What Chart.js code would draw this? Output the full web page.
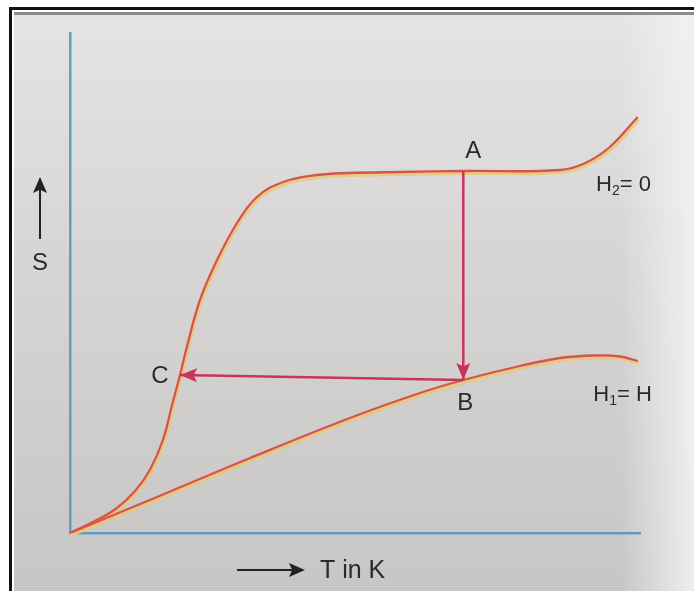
<!DOCTYPE html>
<html>
<head>
<meta charset="utf-8">
<script src="https://cdn.jsdelivr.net/npm/chart.js@4.4.1/dist/chart.umd.min.js"></script>
<style>
  html, body { margin: 0; padding: 0; background: #fff; }
  #wrap { width: 694px; height: 591px; }
</style>
</head>
<body>
<div id="wrap"><canvas id="entropyChart" width="694" height="591"></canvas></div>
<script>
// Entropy against temperature, zero field (H2 = 0)
const zeroFieldT = [0, 4, 8, 11.5, 14, 16.3, 17.9, 19.3, 20.5, 22.8, 25.8, 29.3, 32.8, 37.4, 43.3, 49.1, 57.9, 69, 86, 90.4, 94.7, 99.6];
const zeroFieldS = [0, 2.2, 4.8, 8.5, 12.6, 18.6, 25.6, 31.6, 37.2, 46.6, 54.6, 62, 67.2, 70.2, 71.6, 72, 72.2, 72.4, 72.6, 74, 77.2, 83.2];

// Entropy against temperature, applied field (H1 = H)
const fieldT = [0, 14, 31.6, 49.1, 61.4, 69, 78.9, 86, 92.1, 96.5, 99.6];
const fieldS = [0, 6.6, 15, 23, 28, 30.6, 33.4, 35, 35.5, 35.3, 34.4];

// Cycle states: A (zero field), B (field on), C (back on the zero-field curve)
const stateNames = ['A', 'B', 'C'];
const stateT = [69, 69, 19.3];
const stateS = [72.4, 30.6, 31.6];

// Curve captions split as letter, subscript, rest
const curveNames = [['H', '2', '= 0'], ['H', '1', '= H']];
const axisNames = { s: 'S', t: 'T in K' };

const FONT = '"Liberation Sans", Arial, Helvetica, sans-serif';
const INK = '#2a2a2a';

function toPoints(xs, ys) {
    return xs.map((x, i) => ({ x: x, y: ys[i] }));
}

// Paper background with the black frame at top and left
const paperPlugin = {
    id: 'paper',
    beforeDraw(chart) {
        const ctx = chart.ctx;
        const w = chart.width, h = chart.height;
        ctx.save();
        ctx.fillStyle = '#ffffff';
        ctx.fillRect(0, 0, w, h);

        const g = ctx.createLinearGradient(0, 14, 0, h);
        g.addColorStop(0, '#e4e4e5');
        g.addColorStop(0.4, '#d8d6d5');
        g.addColorStop(1, '#c8c6c5');
        ctx.fillStyle = g;
        ctx.fillRect(14, 14, w - 14, h - 14);

        // light fading toward the right edge
        const r = ctx.createLinearGradient(620, 0, w, 0);
        r.addColorStop(0, 'rgba(240,243,244,0)');
        r.addColorStop(1, 'rgba(240,243,244,0.9)');
        ctx.fillStyle = r;
        ctx.fillRect(620, 14, w - 620, h - 14);

        ctx.fillStyle = '#111';
        ctx.fillRect(9, 7, w - 9, 3);
        ctx.fillRect(9, 7, 3, h - 7);
        ctx.fillStyle = '#8c8c8c';
        ctx.fillRect(14, 12, w - 14, 3);
        ctx.restore();
    }
};

// Glow lines sit slightly below the curves they shadow
const glowPlugin = {
    id: 'glowShift',
    beforeDatasetDraw(chart, args) {
        if (chart.data.datasets[args.index].glow) {
            chart.ctx.save();
            chart.ctx.translate(1, 2);
        }
    },
    afterDatasetDraw(chart, args) {
        if (chart.data.datasets[args.index].glow) {
            chart.ctx.restore();
        }
    }
};

function arrowHead(ctx, x, y, angle, len, half, color) {
    ctx.save();
    ctx.translate(x, y);
    ctx.rotate(angle);
    ctx.fillStyle = color;
    ctx.beginPath();
    ctx.moveTo(0, 0);
    ctx.lineTo(-len, -half);
    ctx.lineTo(-len * 0.8, 0);
    ctx.lineTo(-len, half);
    ctx.closePath();
    ctx.fill();
    ctx.restore();
}

function subLabel(ctx, parts, x, y, size) {
    ctx.font = size + 'px ' + FONT;
    ctx.fillText(parts[0], x, y);
    let cx = x + ctx.measureText(parts[0]).width;
    ctx.font = Math.round(size * 0.62) + 'px ' + FONT;
    ctx.fillText(parts[1], cx, y + size * 0.3);
    cx += ctx.measureText(parts[1]).width;
    ctx.font = size + 'px ' + FONT;
    ctx.fillText(parts[2], cx, y);
}

// Arrow heads, state letters, curve captions and axis names
const labelPlugin = {
    id: 'labels',
    afterDatasetsDraw(chart) {
        const ctx = chart.ctx;
        const xs = chart.scales.x, ys = chart.scales.y;

        chart.data.datasets.forEach((ds, i) => {
            if (!ds.arrow) return;
            const pts = chart.getDatasetMeta(i).data;
            const p0 = pts[pts.length - 2], p1 = pts[pts.length - 1];
            const ang = Math.atan2(p1.y - p0.y, p1.x - p0.x);
            arrowHead(ctx, p1.x, p1.y, ang, 17, 7, ds.borderColor);
        });

        ctx.save();
        ctx.fillStyle = INK;
        ctx.textAlign = 'center';
        ctx.textBaseline = 'middle';
        ctx.font = '24px ' + FONT;
        const offsets = [[10, -20], [2, 23], [-20, 1]];
        stateNames.forEach((name, i) => {
            const px = xs.getPixelForValue(stateT[i]);
            const py = ys.getPixelForValue(stateS[i]);
            ctx.fillText(name, px + offsets[i][0], py + offsets[i][1]);
        });

        ctx.textAlign = 'left';
        const capPos = [[92.3, 69.6], [91.8, 27.6]];
        curveNames.forEach((parts, i) => {
            subLabel(ctx, parts, xs.getPixelForValue(capPos[i][0]), ys.getPixelForValue(capPos[i][1]), 22);
        });

        // S with an upward arrow, left of the axis
        ctx.textAlign = 'center';
        ctx.font = '24px ' + FONT;
        ctx.fillText(axisNames.s, 40, 263);
        ctx.strokeStyle = '#222';
        ctx.lineWidth = 2;
        ctx.beginPath();
        ctx.moveTo(40, 239);
        ctx.lineTo(40, 190);
        ctx.stroke();
        arrowHead(ctx, 40, 177, -Math.PI / 2, 16, 7, '#222');

        // T in K with a rightward arrow, under the axis
        ctx.beginPath();
        ctx.moveTo(237, 570);
        ctx.lineTo(292, 570);
        ctx.stroke();
        arrowHead(ctx, 305, 570, 0, 16, 7, '#222');
        ctx.textAlign = 'left';
        ctx.font = '25px ' + FONT;
        ctx.fillText(axisNames.t, 320, 571);
        ctx.restore();
    }
};

const curveRed = '#d3554b';
const glowYellow = 'rgba(238, 196, 110, 0.75)';
const arrowRed = '#c7345c';

const lineBase = { showLine: true, pointRadius: 0, fill: false, tension: 0.4 };

new Chart(document.getElementById('entropyChart').getContext('2d'), {
    type: 'scatter',
    data: {
        datasets: [
            Object.assign({}, lineBase, { label: 'H2 = 0 glow', data: toPoints(zeroFieldT, zeroFieldS), borderColor: glowYellow, borderWidth: 4, glow: true, order: 3 }),
            Object.assign({}, lineBase, { label: 'H1 = H glow', data: toPoints(fieldT, fieldS), borderColor: glowYellow, borderWidth: 4, glow: true, order: 3 }),
            Object.assign({}, lineBase, { label: 'H2 = 0', data: toPoints(zeroFieldT, zeroFieldS), borderColor: curveRed, borderWidth: 2.3, order: 2 }),
            Object.assign({}, lineBase, { label: 'H1 = H', data: toPoints(fieldT, fieldS), borderColor: curveRed, borderWidth: 2.3, order: 2 }),
            Object.assign({}, lineBase, { label: 'A to B', data: [{ x: stateT[0], y: stateS[0] }, { x: stateT[1], y: stateS[1] }], borderColor: arrowRed, borderWidth: 2.5, arrow: true, tension: 0, order: 1 }),
            Object.assign({}, lineBase, { label: 'B to C', data: [{ x: stateT[1], y: stateS[1] }, { x: stateT[2], y: stateS[2] }], borderColor: arrowRed, borderWidth: 2.5, arrow: true, tension: 0, order: 1 })
        ]
    },
    options: {
        responsive: false,
        animation: false,
        layout: { padding: { left: 62, right: 54, top: 33, bottom: 50 } },
        plugins: {
            legend: { display: false },
            tooltip: { enabled: false }
        },
        scales: {
            x: {
                type: 'linear', min: 0, max: 100,
                grid: { display: false },
                ticks: { display: false },
                border: { display: true, color: '#5f9dbf', width: 2.5 }
            },
            y: {
                type: 'linear', min: 0, max: 100,
                grid: { display: false },
                ticks: { display: false },
                border: { display: true, color: '#5f9fc6', width: 2.5 }
            }
        }
    },
    plugins: [paperPlugin, glowPlugin, labelPlugin]
});
</script>
</body>
</html>
